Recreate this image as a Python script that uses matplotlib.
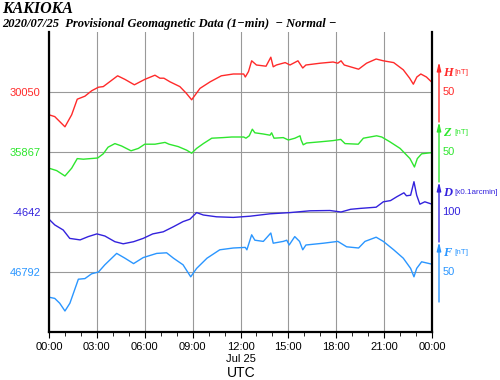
import matplotlib
matplotlib.use("Agg")
import matplotlib.pyplot as plt
import numpy as np

# Kakioka 2020/07/25, values (time in hours UTC)
h_time = [0.0, 0.36, 1.0, 1.42, 1.77, 2.25, 2.67, 3.1, 3.4, 3.7, 4.3, 4.76, 5.35, 6.0,
          6.64, 6.95, 7.2, 7.58, 8.2, 8.6, 8.94, 9.46, 10.1, 10.8, 11.55, 12.2, 12.3,
          12.5, 12.7, 13.0, 13.6, 13.9, 14.05, 14.25, 14.8, 15.1, 15.6, 15.7, 15.9, 16.1,
          17.0, 17.8, 18.1, 18.3, 18.5, 19.4, 19.9, 20.5, 20.95, 21.6, 22.2, 22.6, 22.83,
          23.05, 23.3, 23.65, 24.0]
h_val = [30012, 30009, 29992, 30012, 30038, 30043, 30052, 30058, 30059, 30065, 30077,
         30071, 30062, 30071, 30078, 30073, 30073, 30067, 30059, 30048, 30037, 30056,
         30067, 30077, 30080, 30080, 30075, 30084, 30102, 30095, 30093, 30108, 30092,
         30095, 30099, 30095, 30102, 30098, 30090, 30095, 30098, 30100, 30098, 30102,
         30095, 30088, 30098, 30105, 30102, 30099, 30087, 30073, 30063, 30075, 30080,
         30075, 30066]

z_time = [0.0, 0.48, 1.0, 1.42, 1.77, 2.15, 3.05, 3.4, 3.7, 4.13, 4.55, 5.14, 5.6, 6.0,
          6.64, 7.27, 7.52, 8.1, 8.63, 8.94, 9.25, 9.67, 10.2, 10.9, 11.45, 12.2, 12.34,
          12.55, 12.74, 12.9, 13.43, 13.85, 13.95, 14.1, 14.68, 15.0, 15.41, 15.73, 15.8,
          15.93, 16.14, 17.0, 17.8, 18.28, 18.55, 19.38, 19.7, 20.53, 20.85, 21.36, 22.0,
          22.62, 22.9, 23.08, 23.35, 24.0]
z_val = [35840, 35836, 35827, 35840, 35856, 35855, 35857, 35864, 35875, 35881, 35877,
         35869, 35873, 35880, 35880, 35883, 35880, 35876, 35870, 35865, 35873, 35881,
         35890, 35891, 35892, 35892, 35890, 35894, 35905, 35899, 35897, 35895, 35899,
         35890, 35891, 35887, 35890, 35894, 35887, 35879, 35882, 35884, 35886, 35888,
         35881, 35880, 35890, 35894, 35892, 35884, 35873, 35856, 35842, 35856, 35864,
         35866]

d_time = [0.0, 0.36, 0.89, 1.3, 1.95, 2.46, 3.0, 3.5, 4.13, 4.65, 5.3, 5.9, 6.5, 7.16,
          7.8, 8.4, 8.83, 9.25, 9.67, 10.5, 11.55, 12.6, 13.85, 15.1, 16.35, 17.6, 18.3,
          18.9, 19.5, 20.5, 20.95, 21.4, 21.8, 22.24, 22.4, 22.66, 22.87, 23.04, 23.24,
          23.55, 24.0]
d_val = [-4666, -4685, -4702, -4730, -4735, -4724, -4715, -4722, -4741, -4748, -4741,
         -4730, -4715, -4708, -4691, -4674, -4666, -4644, -4652, -4658, -4660, -4656,
         -4648, -4644, -4638, -4637, -4642, -4633, -4630, -4626, -4608, -4604, -4591,
         -4578, -4588, -4586, -4541, -4586, -4616, -4608, -4616]

f_time = [0.0, 0.36, 0.67, 1.0, 1.31, 1.84, 2.25, 2.67, 3.1, 3.5, 4.24, 4.76, 5.3, 5.9,
          6.75, 7.37, 7.8, 8.4, 8.88, 9.25, 9.9, 10.7, 11.55, 12.3, 12.4, 12.7, 12.9,
          13.43, 13.9, 14.05, 14.68, 14.9, 15.05, 15.4, 15.7, 15.9, 16.1, 17.2, 18.1,
          18.65, 19.4, 19.8, 20.5, 20.95, 21.6, 22.2, 22.66, 22.87, 23.04, 23.35, 24.0]
f_val = [46750, 46748, 46740, 46727, 46740, 46780, 46781, 46789, 46792, 46804, 46823,
         46815, 46806, 46816, 46823, 46824, 46815, 46804, 46784, 46798, 46815, 46829,
         46832, 46833, 46829, 46854, 46845, 46843, 46857, 46840, 46843, 46845, 46837,
         46851, 46843, 46829, 46837, 46840, 46843, 46834, 46832, 46843, 46850, 46843,
         46829, 46815, 46798, 46784, 46798, 46809, 46805]

# component, reference value, scale bar label, unit
components = ["H", "Z", "D", "F"]
refs = [30050, 35867, -4642, 46792]
scale_mid = ["50", "50", "100", "50"]
units = ["[nT]", "[nT]", "[x0.1arcmin]", "[nT]"]
colors = ["#ff2a2a", "#2ee62e", "#3322dd", "#2a96ff"]
bases = [400, 300, 200, 100]
gains = [1.0, 1.0, 0.5, 1.0]

tick_hours = list(range(0, 25, 3))
tick_labels = ["%02d:00" % (h % 24) for h in tick_hours]

fig = plt.figure(figsize=(5, 3.8), dpi=100)
ax = fig.add_axes([49/500, 1-332/380, 383/500, 300/380])

series = [(h_time, h_val), (z_time, z_val), (d_time, d_val), (f_time, f_val)]
for i, (t, v) in enumerate(series):
    y = bases[i] + (np.array(v) - refs[i]) * gains[i]
    ax.plot(t, y, color=colors[i], lw=1.0)

ax.set_xlim(0, 24)
ax.set_ylim(0, 500)
ax.set_xticks(tick_hours)
ax.set_xticklabels(tick_labels, fontsize=8, family="Liberation Sans")
ax.set_xticks(range(25), minor=True)
ax.tick_params(axis="x", which="major", length=4, width=0.8, pad=3.5)
ax.tick_params(axis="x", which="minor", length=3, width=0.6)
ax.set_yticks(bases)
ax.set_yticklabels([str(r) for r in refs], fontsize=8, family="Liberation Sans")
for lab, c in zip(ax.get_yticklabels(), colors):
    lab.set_color(c)
ax.tick_params(axis="y", length=0, pad=6)
ax.grid(True, color="#999999", lw=0.8)
ax.set_axisbelow(True)

ax.spines["top"].set_visible(False)
for s in ["left", "right", "bottom"]:
    ax.spines[s].set_linewidth(1.6)

# scale arrows on the right
xa = 24 + 7.0 / 383 * 24
for i in range(4):
    ax.annotate("", xy=(xa, bases[i] + 50), xytext=(xa, bases[i] - 50),
                xycoords="data", annotation_clip=False,
                arrowprops=dict(arrowstyle="-|>,head_length=0.5,head_width=0.12",
                                color=colors[i], lw=1.0, shrinkA=0, shrinkB=0))
    ax.text(xa + 0.2, bases[i], scale_mid[i], color=colors[i], fontsize=8,
            family="Liberation Sans", va="center", ha="left", clip_on=False)
    ax.text(xa + 0.25, bases[i] + 32, components[i], color=colors[i], fontsize=9,
            family="Liberation Serif", weight="bold", style="italic",
            va="center", ha="left", clip_on=False)
    ax.text(xa + 0.95, bases[i] + 33, units[i], color=colors[i], fontsize=5.8,
            family="Liberation Sans", va="center", ha="left", clip_on=False)

fig.text(2/500, 1-9/380, "KAKIOKA", fontsize=11.5, family="Liberation Serif",
         weight="bold", style="italic", va="center", ha="left")
fig.text(2/500, 1-24/380, "2020/07/25  Provisional Geomagnetic Data (1\u2212min)  \u2212 Normal \u2212",
         fontsize=9, family="Liberation Serif", weight="bold", style="italic",
         va="center", ha="left")
fig.text(241/500, 1-359/380, "Jul 25", fontsize=8, family="Liberation Sans",
         va="center", ha="center")
fig.text(241/500, 1-373/380, "UTC", fontsize=10, family="Liberation Sans",
         va="center", ha="center")

fig.savefig("out.png", dpi=100)
